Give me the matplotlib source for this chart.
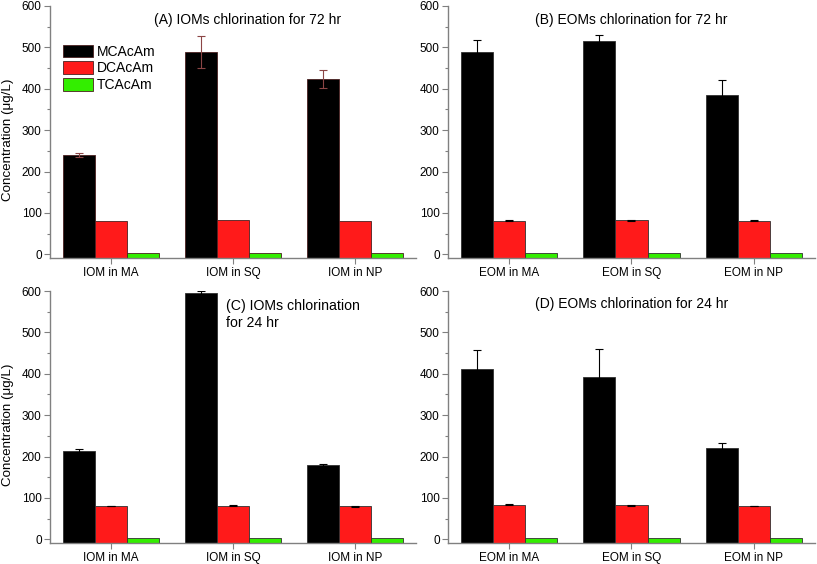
import numpy as np
import matplotlib
matplotlib.use("Agg")
import matplotlib.pyplot as plt

plt.rcParams['font.family'] = ['Liberation Sans', 'DejaVu Sans']

series = ["MCAcAm", "DCAcAm", "TCAcAm"]
colors = ["#000000", "#ff1a1a", "#33ee00"]

panels = ["(A) IOMs chlorination for 72 hr", "(B) EOMs chlorination for 72 hr",
          "(C) IOMs chlorination\nfor 24 hr", "(D) EOMs chlorination for 24 hr"]
cats_iom = ["IOM in MA", "IOM in SQ", "IOM in NP"]
cats_eom = ["EOM in MA", "EOM in SQ", "EOM in NP"]

# values [MCAcAm, DCAcAm, TCAcAm] per category
A_vals = [[239, 489, 423], [80, 82, 80], [3, 2, 2]]
A_err = [[5, 39, 22], [0, 0, 0], [0, 0, 0]]
B_vals = [[489, 515, 386], [81, 82, 81], [3, 3, 3]]
B_err = [[28, 14, 36], [1, 1, 1], [0, 0, 0]]
C_vals = [[213, 594, 179], [80, 81, 80], [2, 2, 2]]
C_err = [[6, 5, 4], [0, 1, 1], [0, 0, 0]]
D_vals = [[411, 393, 221], [84, 82, 81], [3, 3, 4]]
D_err = [[46, 66, 12], [2, 1, 0], [0, 0, 0]]

YMIN = -9

fig = plt.figure(figsize=(8.17, 5.64), dpi=100)
W, H = 817, 564
def ax_at(l, t, w, h):
    return fig.add_axes([l / W, 1 - (t + h) / H, w / W, h / H])

axes = [ax_at(50, 6, 366, 252), ax_at(448, 6, 367, 252),
        ax_at(50, 291, 366, 252), ax_at(448, 291, 367, 252)]
data = [(A_vals, A_err, cats_iom), (B_vals, B_err, cats_eom),
        (C_vals, C_err, cats_iom), (D_vals, D_err, cats_eom)]
ecols = ['#8b4545', 'black', 'black', 'black']

bw = 0.262
x = np.arange(1, 4)
for i, ax in enumerate(axes):
    vals, errs, cats = data[i]
    for s in range(3):
        pos = x + (s - 1) * bw
        v = np.array(vals[s], dtype=float)
        ax.bar(pos, v - YMIN, bottom=YMIN, width=bw, color=colors[s],
               edgecolor='#4a2020' if i == 0 else '#303030', linewidth=0.6,
               label=series[s], zorder=2)
        if any(e > 0 for e in errs[s]):
            ax.errorbar(pos, v, yerr=errs[s], fmt='none', ecolor=ecols[i],
                        elinewidth=0.8, capsize=3, capthick=0.8, zorder=3)
    ax.set_xlim(0.5, 3.5)
    ax.set_ylim(YMIN, 600)
    ax.set_xticks(x)
    ax.set_xticklabels(cats)
    ax.set_yticks(np.arange(0, 601, 100))
    ax.set_yticks(np.arange(50, 600, 100), minor=True)
    ax.tick_params(axis='y', which='major', length=4, width=0.8, color='#808080',
                   labelsize=8.5, pad=2)
    ax.tick_params(axis='y', which='minor', length=2, width=0.8, color='#808080')
    ax.tick_params(axis='x', which='major', length=4, width=0.8, color='#808080',
                   labelsize=8.5, pad=2.5)
    for sp in ['top', 'right']:
        ax.spines[sp].set_visible(False)
    for sp in ['left', 'bottom']:
        ax.spines[sp].set_color('#808080')
        ax.spines[sp].set_linewidth(1.0)
    if i in (0, 2):
        ax.set_ylabel("Concentration (μg/L)", fontsize=9.6)
        ax.yaxis.set_label_coords(-0.097, 0.47)

axes[0].text(0.541, 0.944, panels[0], transform=axes[0].transAxes, fontsize=10,
             ha='center', va='center')
axes[1].text(0.499, 0.944, panels[1], transform=axes[1].transAxes, fontsize=10,
             ha='center', va='center')
axes[2].text(0.481, 0.967, panels[2], transform=axes[2].transAxes, fontsize=10.2,
             ha='left', va='top', linespacing=1.2)
axes[3].text(0.499, 0.948, panels[3], transform=axes[3].transAxes, fontsize=10,
             ha='center', va='center')

axes[0].legend(loc='upper left', bbox_to_anchor=(0.0126, 0.88), frameon=False,
               fontsize=10, handlelength=2.15, handleheight=1.0, labelspacing=0.2,
               handletextpad=0.3, borderaxespad=0.2)

fig.savefig("out.png", dpi=100)
